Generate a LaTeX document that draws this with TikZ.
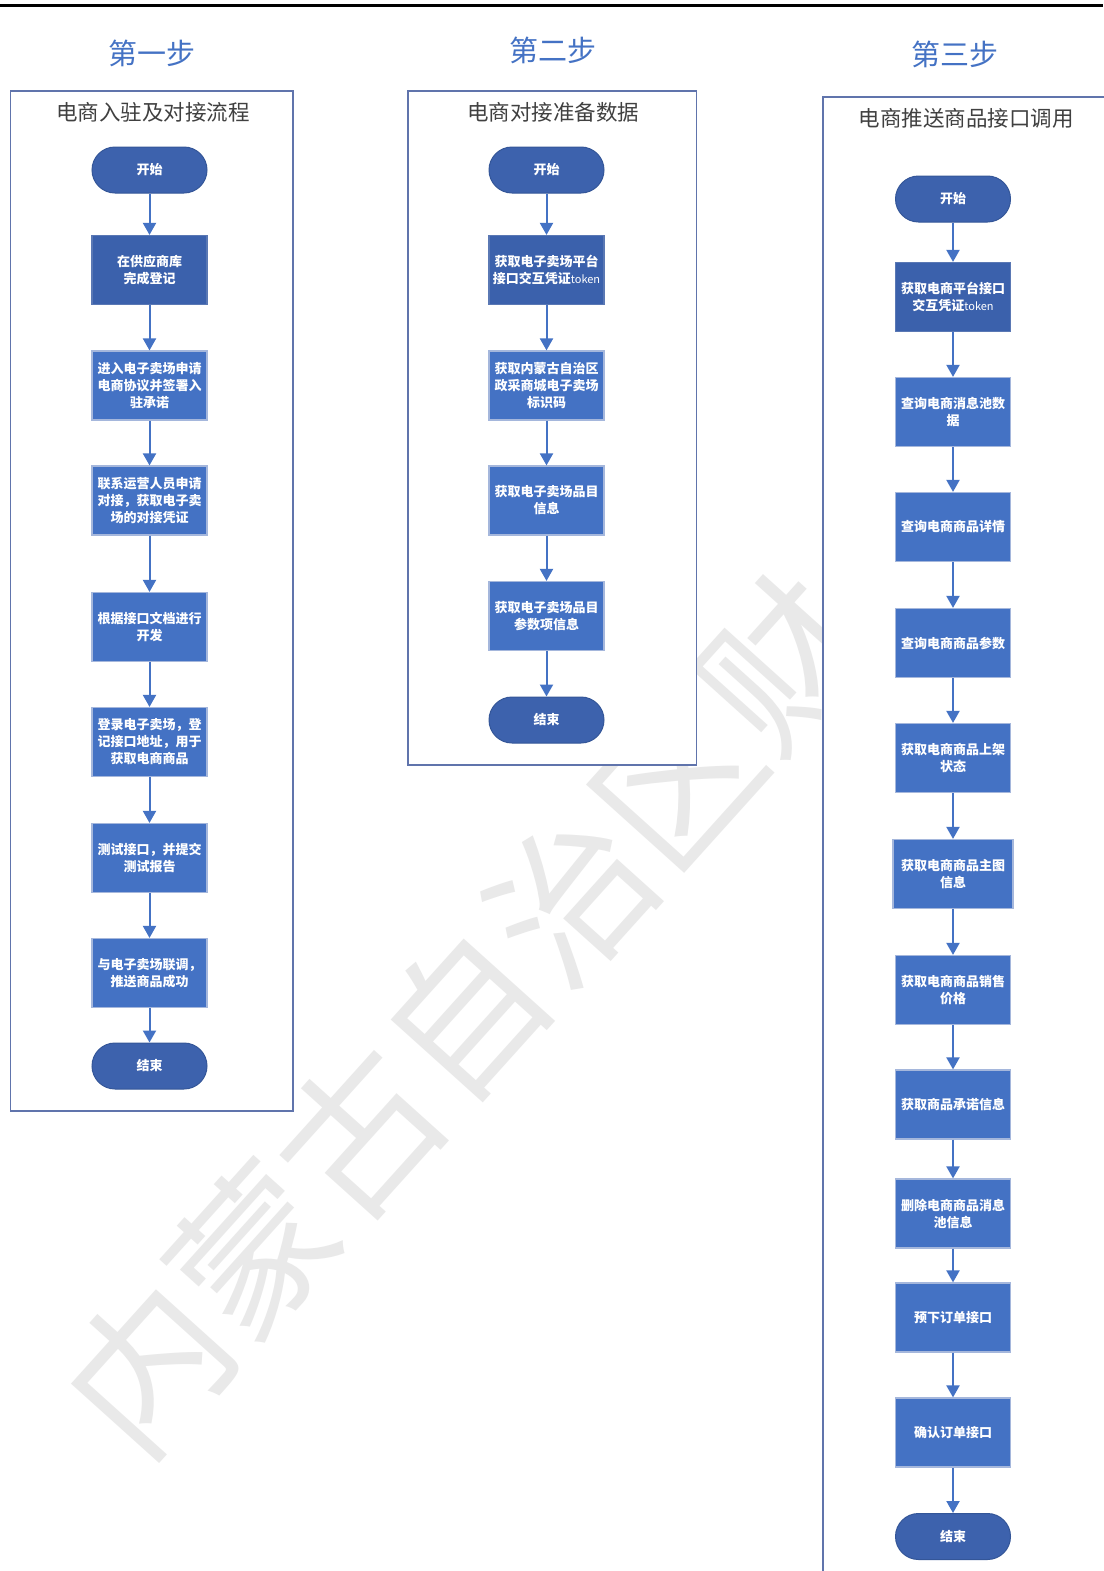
\documentclass[tikz,border=0pt]{standalone}
\usepackage{fontspec}
\newfontfamily\cjk{Noto Sans CJK SC}
\usetikzlibrary{arrows.meta}
\definecolor{stepblue}{RGB}{68,114,196}
\definecolor{boxblue}{RGB}{68,114,196}
\definecolor{boxedge}{RGB}{165,183,220}
\definecolor{darkblue}{RGB}{59,97,172}
\definecolor{darkedge}{RGB}{90,120,180}
\definecolor{termblue}{RGB}{61,98,173}
\definecolor{termedge}{RGB}{52,86,152}
\definecolor{panelline}{RGB}{96,116,172}
\definecolor{titlegray}{RGB}{64,64,64}
\definecolor{wmgray}{RGB}{233,233,233}
\definecolor{arrowblue}{RGB}{68,114,196}
\begin{document}
\begin{tikzpicture}[x=1pt,y=-1pt,
  font=\cjk,
  proc/.style={rectangle, draw=boxedge, line width=1.2pt, fill=boxblue, minimum width=115pt, minimum height=69pt, inner sep=2pt, text=white, align=center, font=\cjk\bfseries\fontsize{13}{17}\selectfont},
  procdark/.style={proc, fill=darkblue, draw=darkedge},
  term/.style={rectangle, rounded corners=23pt, draw=termedge, line width=1pt, fill=termblue, minimum width=115pt, minimum height=46pt, text=white, font=\cjk\bfseries\fontsize{13}{17}\selectfont},
  flow/.style={draw=arrowblue, line width=2pt, -{Triangle[width=13pt,length=12pt]}},
  panel/.style={draw=panelline, line width=1.5pt, fill=white},
  steptitle/.style={text=stepblue, font=\cjk\fontsize{29}{34}\selectfont},
  paneltitle/.style={text=titlegray, font=\cjk\fontsize{21.5}{25}\selectfont}
]
\useasboundingbox (0,0) rectangle (1103,1571);
\fill[white] (0,0) rectangle (1103,1571);

% watermark
\node[rotate=48, text=wmgray, font=\cjk\fontsize{158}{158}\selectfont, inner sep=0pt] (wm) at (465,1015) {内蒙古自治区财};

% top rule
\draw[line width=3pt] (0,5.5) -- (1103,5.5);

% step titles
\node[steptitle] (s1) at (152,53) {第一步};
\node[steptitle] (s2) at (553,50) {第二步};
\node[steptitle] (s3) at (955,54) {第三步};

% panels
\draw[panel] (10.5,91) rectangle (293,1111);
\draw[panel] (408,91) rectangle (696.5,765);
\draw[panel] (823,97) rectangle (1112,1590);

\node[paneltitle] (t1) at (153,112) {电商入驻及对接流程};
\node[paneltitle] (t2) at (553,112) {电商对接准备数据};
\node[paneltitle] (t3) at (966,118) {电商推送商品接口调用};

% panel 1
\node[term] (a0) at (149.5,170) {开始};
\node[procdark] (a1) at (149.5,270) {在供应商库\\完成登记};
\node[proc] (a2) at (149.5,385.5) {进入电子卖场申请\\电商协议并签署入\\驻承诺};
\node[proc] (a3) at (149.5,500.5) {联系运营人员申请\\对接，获取电子卖\\场的对接凭证};
\node[proc] (a4) at (149.5,627) {根据接口文档进行\\开发};
\node[proc] (a5) at (149.5,742) {登录电子卖场，登\\记接口地址，用于\\获取电商商品};
\node[proc] (a6) at (149.5,858) {测试接口，并提交\\测试报告};
\node[proc] (a7) at (149.5,973) {与电子卖场联调，\\推送商品成功};
\node[term] (a8) at (149.5,1066) {结束};
\foreach \i [evaluate=\i as \j using int(\i+1)] in {0,...,7}
  \draw[flow] (a\i.south) -- (a\j.north);

% panel 2
\node[term] (b0) at (546.5,170) {开始};
\node[procdark] (b1) at (546.5,270) {获取电子卖场平台\\接口交互凭证{\mdseries\fontsize{11}{17}\selectfont token}};
\node[proc] (b2) at (546.5,385.5) {获取内蒙古自治区\\政采商城电子卖场\\标识码};
\node[proc] (b3) at (546.5,500.5) {获取电子卖场品目\\信息};
\node[proc] (b4) at (546.5,616) {获取电子卖场品目\\参数项信息};
\node[term] (b5) at (546.5,720) {结束};
\foreach \i [evaluate=\i as \j using int(\i+1)] in {0,...,4}
  \draw[flow] (b\i.south) -- (b\j.north);

% panel 3
\node[term] (c0) at (953,199) {开始};
\node[procdark] (c1) at (953,297) {获取电商平台接口\\交互凭证{\mdseries\fontsize{11}{17}\selectfont token}};
\node[proc] (c2) at (953,412) {查询电商消息池数\\据};
\node[proc] (c3) at (953,527) {查询电商商品详情};
\node[proc] (c4) at (953,643) {查询电商商品参数};
\node[proc] (c5) at (953,758) {获取电商商品上架\\状态};
\node[proc, minimum width=120pt] (c6) at (953,874) {获取电商商品主图\\信息};
\node[proc] (c7) at (953,990) {获取电商商品销售\\价格};
\node[proc] (c8) at (953,1104.5) {获取商品承诺信息};
\node[proc] (c9) at (953,1213.5) {删除电商商品消息\\池信息};
\node[proc] (c10) at (953,1317.5) {预下订单接口};
\node[proc] (c11) at (953,1432.5) {确认订单接口};
\node[term] (c12) at (953,1536.5) {结束};
\foreach \i [evaluate=\i as \j using int(\i+1)] in {0,...,11}
  \draw[flow] (c\i.south) -- (c\j.north);
\end{tikzpicture}
\end{document}
